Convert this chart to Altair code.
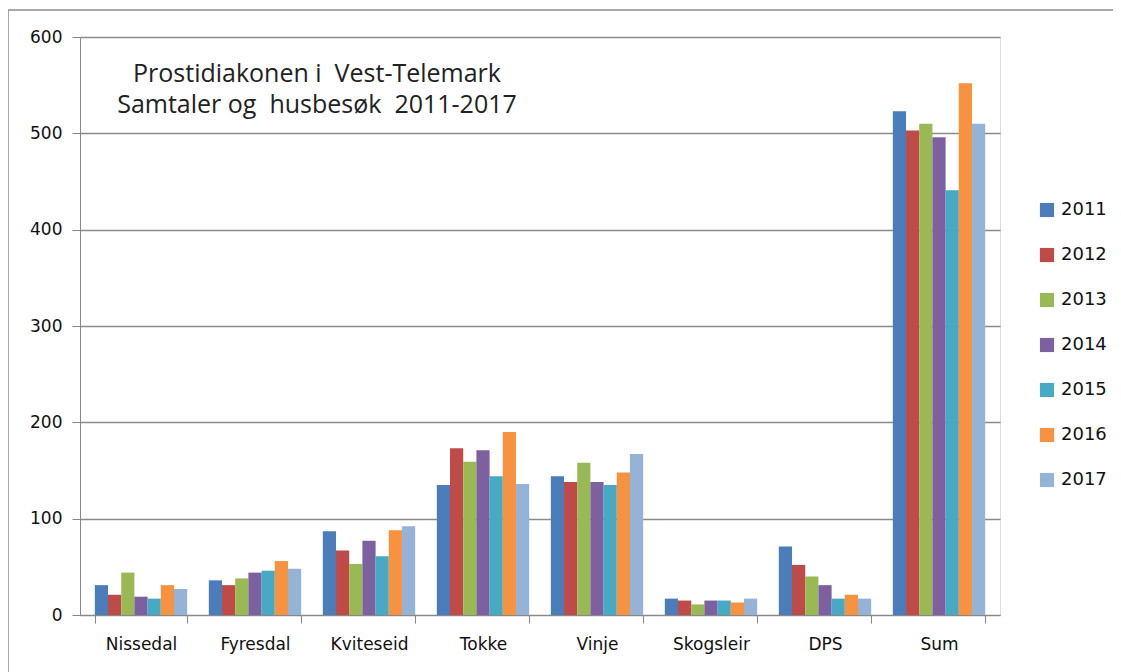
import altair as alt
import pandas as pd

categories = ["Nissedal", "Fyresdal", "Kviteseid", "Tokke", "Vinje", "Skogsleir", "DPS", "Sum"]
years = ["2011", "2012", "2013", "2014", "2015", "2016", "2017"]
v2011 = [31, 36, 87, 135, 144, 17, 71, 523]
v2012 = [21, 31, 67, 173, 138, 15, 52, 503]
v2013 = [44, 38, 53, 159, 158, 11, 40, 510]
v2014 = [19, 44, 77, 171, 138, 15, 31, 496]
v2015 = [17, 46, 61, 144, 135, 15, 17, 441]
v2016 = [31, 56, 88, 190, 148, 13, 21, 552]
v2017 = [27, 48, 92, 136, 167, 17, 17, 510]
colors = ["#4A7DBA", "#BE4B48", "#98B954", "#7D60A0", "#46AAC5", "#F69240", "#95B3D7"]
title_text = "Prostidiakonen i\u00a0 Vest-Telemark\nSamtaler og\u00a0 husbesøk\u00a0 2011-2017"

series = [v2011, v2012, v2013, v2014, v2015, v2016, v2017]
rows = []
for y, vals in zip(years, series):
    for c, v in zip(categories, vals):
        rows.append({"cat": c, "year": y, "value": v})
df = pd.DataFrame(rows)

W, H = 920, 578

bars = alt.Chart(df).mark_bar(size=13.2).encode(
    x=alt.X("cat:N", sort=categories, title=None,
            scale=alt.Scale(paddingInner=0.19, paddingOuter=0.13),
            axis=alt.Axis(labelAngle=0, tickBand="extent", tickSize=8, tickColor="#888888",
                          domainColor="#888888", labelFont="DejaVu Sans", labelFontSize=17,
                          labelColor="#111111", labelPadding=13, grid=False)),
    xOffset=alt.XOffset("year:N", sort=years, scale=alt.Scale(paddingInner=0, paddingOuter=0)),
    y=alt.Y("value:Q", title=None,
            scale=alt.Scale(domain=[0, 600], nice=False),
            axis=alt.Axis(values=[0, 100, 200, 300, 400, 500, 600], tickSize=8,
                          tickColor="#888888", domainColor="#888888", gridColor="#8a8a8a",
                          gridWidth=1.5, labelFont="DejaVu Sans", labelFontSize=17,
                          labelColor="#111111", labelPadding=10)),
    color=alt.Color("year:N", sort=years,
                    scale=alt.Scale(domain=years, range=colors),
                    legend=alt.Legend(title=None, orient="none", legendX=958, legendY=164,
                                      symbolType="square", symbolSize=200, symbolStrokeWidth=0,
                                      labelFont="DejaVu Sans", labelFontSize=18,
                                      labelColor="#111111", rowPadding=27, labelOffset=5)),
)

title = alt.Chart(pd.DataFrame({"t": [title_text]})).mark_text(
    font="Open Sans", fontSize=25, color="#222222", align="center", baseline="middle",
    lineBreak="\n", lineHeight=31).encode(
    x=alt.value(237), y=alt.value(37), text="t:N",
)

frame = alt.Chart(pd.DataFrame({"a": [0]})).mark_rect(fill=None, stroke="#8c8c8c", strokeWidth=1.5).encode(
    x=alt.value(-72), x2=alt.value(1038), y=alt.value(-27), y2=alt.value(700)
)

chart = alt.layer(frame, bars, title).properties(
    width=W, height=H,
    autosize=alt.AutoSizeParams(type="none"),
    padding={"left": 72, "top": 29, "right": 113, "bottom": 57},
).configure_view(stroke=None).configure(background="white")

chart.save("out.html", embed_options={"renderer": "svg", "actions": False})
